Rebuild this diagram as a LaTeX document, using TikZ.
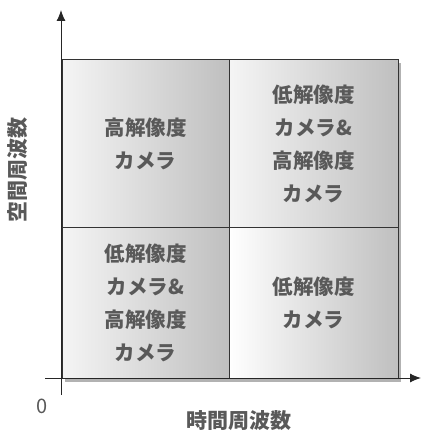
\documentclass[tikz,border=0pt]{standalone}
\usepackage{fontspec}
\setmainfont{Noto Sans CJK JP}
\usetikzlibrary{arrows.meta,shadows}
\begin{document}
\begin{tikzpicture}[x=1pt,y=-1pt,
  cell/.style={draw=black!80,line width=1pt,rectangle,inner sep=0pt,
    left color=gray!8,right color=gray!50,
    text=black!65,align=center,font=\fontsize{20.5}{33}\selectfont\bfseries},
  axis/.style={draw=black!85,line width=1pt,-{Latex[length=11pt,width=9pt]}},
  lab/.style={text=black!65,font=\fontsize{21}{24}\selectfont\bfseries}]
\useasboundingbox (0,0) rectangle (422,435);
% shadow
\fill[black!30] (65,63) rectangle (401,382);
\node[cell,minimum width=167pt,minimum height=167pt] (tl) at (145.5,143.5) {高解像度\\カメラ};
\node[cell,minimum width=169pt,minimum height=167pt] (tr) at (313.5,143.5) {低解像度\\カメラ\&\\高解像度\\カメラ};
\node[cell,minimum width=167pt,minimum height=151pt] (bl) at (145.5,302.5) {低解像度\\カメラ\&\\高解像度\\カメラ};
\node[cell,minimum width=169pt,minimum height=151pt,left color=white] (br) at (313.5,302.5) {低解像度\\カメラ};
\coordinate (ys) at (61,395);
\coordinate (ye) at (61,10);
\coordinate (xs) at (45,378);
\coordinate (xe) at (421,378);
\draw[axis] (ys) -- (ye);
\draw[axis] (xs) -- (xe);
\node[lab,font=\fontsize{20}{24}\selectfont] (o) at (42,406) {0};
\node[lab] (xl) at (239,421) {時間周波数};
\node[lab,rotate=90] (yl) at (18,170) {空間周波数};
\end{tikzpicture}
\end{document}
